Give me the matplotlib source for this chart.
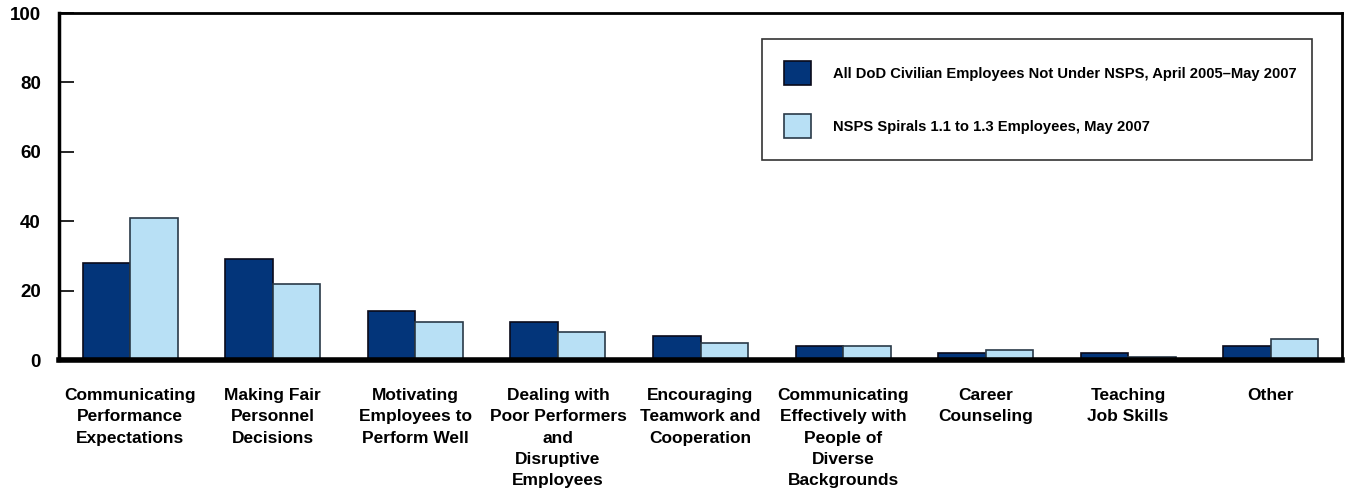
import matplotlib
matplotlib.use("Agg")
import matplotlib.pyplot as plt
import numpy as np

categories = ["Communicating\nPerformance\nExpectations",
              "Making Fair\nPersonnel\nDecisions",
              "Motivating\nEmployees to\nPerform Well",
              "Dealing with\nPoor Performers\nand\nDisruptive\nEmployees",
              "Encouraging\nTeamwork and\nCooperation",
              "Communicating\nEffectively with\nPeople of\nDiverse\nBackgrounds",
              "Career\nCounseling",
              "Teaching\nJob Skills",
              "Other"]
dod_values = [28, 29, 14, 11, 7, 4, 2, 2, 4]
nsps_values = [41, 22, 11, 8, 5, 4, 3, 1, 6]
series_names = ["All DoD Civilian Employees Not Under NSPS, April 2005\u2013May 2007",
                "NSPS Spirals 1.1 to 1.3 Employees, May 2007"]
y_ticks = [0, 20, 40, 60, 80, 100]

dark = "#03357a"
light = "#b8e0f5"
plt.rcParams['font.family'] = ['Liberation Sans', 'DejaVu Sans']
plt.rcParams['font.weight'] = 'bold'

fig = plt.figure(figsize=(13.47, 4.95), dpi=100)
ax = fig.add_axes([0.0438, 0.2727, 0.9525, 0.701])

x = np.arange(len(categories))
w = 0.333
ax.bar(x - w / 2, dod_values, w, color=dark, edgecolor="#0a0a1a", linewidth=1.2,
       label=series_names[0])
ax.bar(x + w / 2, nsps_values, w, color=light, edgecolor="#2a3a48", linewidth=1.2,
       label=series_names[1])

ax.set_xlim(-0.5, 8.5)
ax.set_ylim(0, 100)
ax.set_yticks(y_ticks)
ax.set_yticklabels([str(v) for v in y_ticks], fontsize=13.5, fontweight='bold')
ax.tick_params(axis='y', direction='in', length=11, width=1.2, pad=13)
ax.set_xticks(x)
ax.set_xticklabels(categories, fontsize=12.5, fontweight='bold', linespacing=1.53)
ax.tick_params(axis='x', length=0, pad=20)

for s in ["left", "top", "right"]:
    ax.spines[s].set_linewidth(2)
ax.spines["left"].set_linewidth(2.5)
ax.spines["bottom"].set_linewidth(4)

leg = ax.legend(loc="upper left", bbox_to_anchor=(0.548, 0.925, 0.4287, 0.0),
                mode="expand", frameon=True,
                fancybox=False, edgecolor="black", fontsize=10.6, handlelength=1.8,
                handleheight=2.1, labelspacing=2.0, borderpad=1.5, handletextpad=1.5,
                borderaxespad=0)
leg.get_frame().set_linewidth(1.2)
for t in leg.get_texts():
    t.set_fontweight('bold')

fig.savefig("out.png", dpi=100)
